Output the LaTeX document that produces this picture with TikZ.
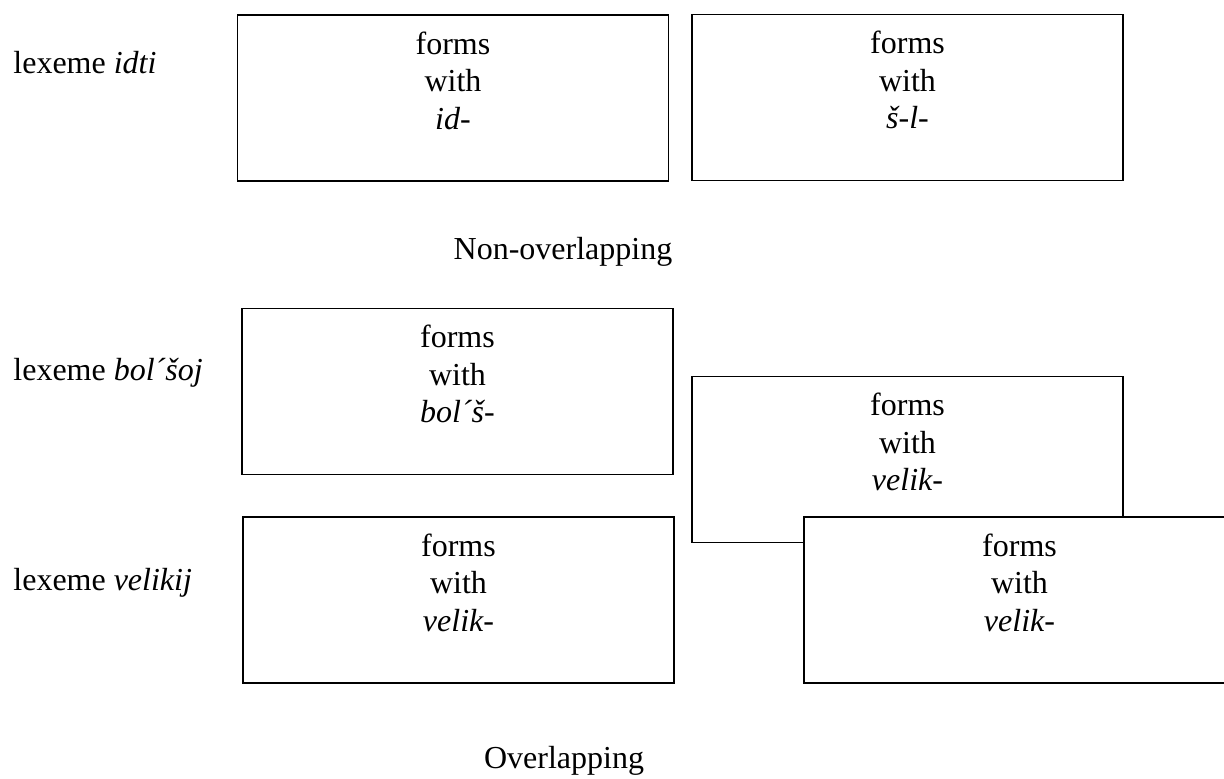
\documentclass[tikz,border=0pt]{standalone}
\usepackage{fontspec}
\setmainfont{Liberation Serif}
\usetikzlibrary{positioning}

\tikzset{
  formbox/.style={draw, line width=0.9pt, fill=white, minimum width=215.5pt, minimum height=83pt, inner sep=0pt},
  formtext/.style={align=center, inner sep=0pt, font=\fontsize{16}{18.75}\selectfont},
  lexlabel/.style={anchor=base west, inner sep=0pt, font=\fontsize{16}{18.75}\selectfont},
  captext/.style={anchor=base, inner sep=0pt, font=\fontsize{16}{18.75}\selectfont}
}

\begin{document}
\begin{tikzpicture}[x=0.5pt, y=-0.5pt]
    \useasboundingbox (0,0) rectangle (1224,778);
    \clip (0,0) rectangle (1224,778);
    % Non-overlapping
    \node[lexlabel] (idti) at (13,73) {lexeme \textit{idti}};
    \node[formbox] (idbox) at (453,98) {};
    \node[formtext, below=8.5pt of idbox.north] (idtxt) {forms\\with\\\textit{id-}};
    \node[formbox] (slbox) at (907.5,97.5) {};
    \node[formtext, below=8.5pt of slbox.north] (sltxt) {forms\\with\\\textit{š-l-}};
    \node[captext] (nonover) at (563,259) {Non-overlapping};
    % Overlapping
    \node[lexlabel] (bolsoj) at (13,380) {lexeme \textit{bol´šoj}};
    \node[lexlabel] (velikij) at (13,590) {lexeme \textit{velikij}};
    \node[formbox] (bolbox) at (457.5,391.5) {};
    \node[formtext, below=8.5pt of bolbox.north] (boltxt) {forms\\with\\\textit{bol´š-}};
    \node[formbox] (velbox) at (458.5,600) {};
    \node[formtext, below=8.5pt of velbox.north] (veltxt) {forms\\with\\\textit{velik-}};
    \node[formbox] (upbox) at (907.5,459.5) {};
    \node[formtext, below=8.5pt of upbox.north] (uptxt) {forms\\with\\\textit{velik-}};
    \node[formbox] (lowbox) at (1019.5,600) {};
    \node[formtext, below=8.5pt of lowbox.north] (lowtxt) {forms\\with\\\textit{velik-}};
    \node[captext] (over) at (564,768) {Overlapping};
\end{tikzpicture}
\end{document}
